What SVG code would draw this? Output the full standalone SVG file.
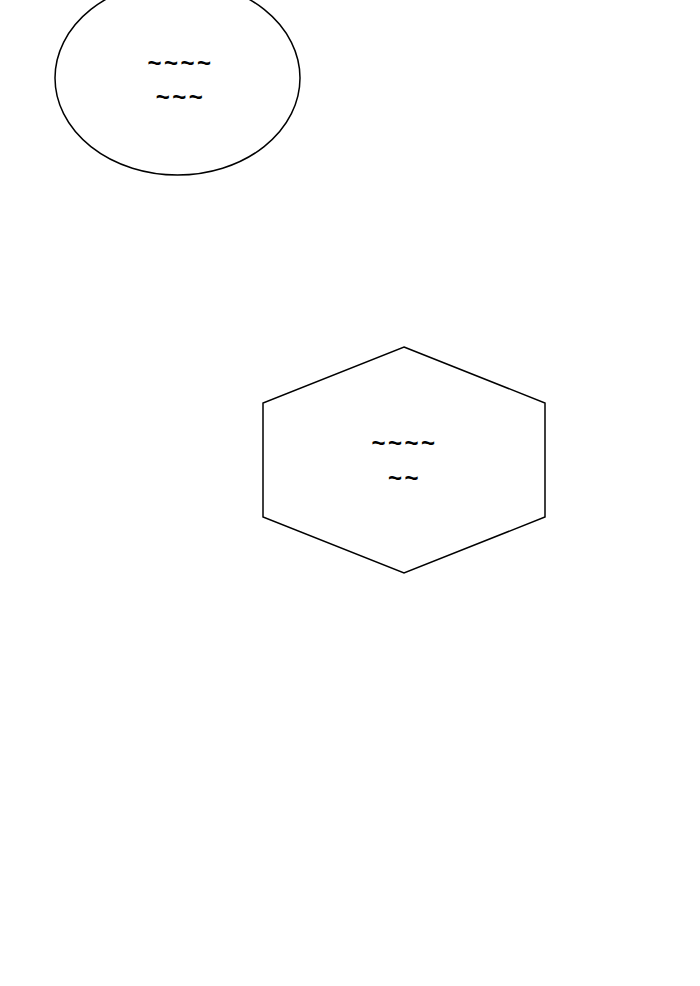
<svg xmlns="http://www.w3.org/2000/svg" width="700" height="986" viewBox="0 0 700 986">
<style>
.shape{fill:#fff;stroke:#000;stroke-width:1.5}
.lbl{font-family:"Liberation Sans",Arial,sans-serif;font-size:24px;font-weight:bold;letter-spacing:2.5px;fill:#000;text-anchor:middle}
</style>
<rect width="700" height="986" fill="#fff"/>
<g id="connectors"></g>
<g id="node1">
<ellipse class="shape" cx="177.5" cy="78" rx="122.5" ry="97"/>
<text class="lbl" x="180.5" y="71">~~~~</text>
<text class="lbl" x="180.5" y="105">~~~</text>
</g>
<g id="node2">
<polygon class="shape" points="404,347 545,403 545,517 404,573 263,517 263,403"/>
<text class="lbl" x="404.5" y="451">~~~~</text>
<text class="lbl" x="404.5" y="486">~~</text>
</g>
</svg>
